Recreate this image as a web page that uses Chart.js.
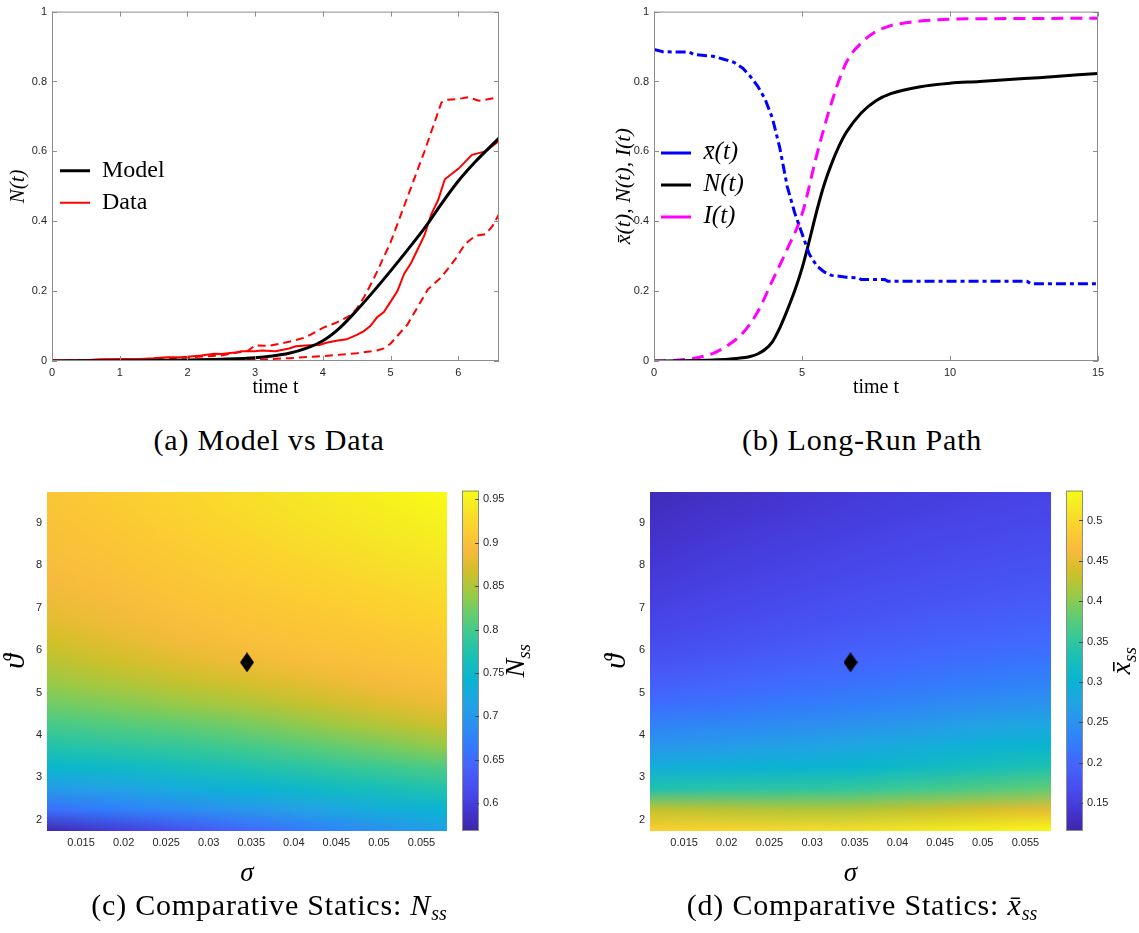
<!DOCTYPE html>
<html>
<head>
<meta charset="utf-8">
<script src="https://cdn.jsdelivr.net/npm/chart.js@4.4.0/dist/chart.umd.min.js"></script>
<style>
  body { margin: 0; background: #fff; }
  #fig { position: relative; width: 1139px; height: 933px; overflow: hidden; }
  canvas { position: absolute; }
  .cap { position: absolute; font-family: "Liberation Serif", "Times New Roman", serif; font-size: 30px;
         letter-spacing: 0.8px; line-height: 30px; color: #000; text-align: center; white-space: nowrap; }
  .cap sub { font-size: 20px; vertical-align: -5px; line-height: 0; letter-spacing: 0; }
</style>
</head>
<body>
<div id="fig">
  <canvas id="cA" width="560" height="400" style="left:0;top:0"></canvas>
  <canvas id="cB" width="569" height="400" style="left:570px;top:0"></canvas>
  <canvas id="cC" width="458" height="410" style="left:0;top:480px"></canvas>
  <canvas id="cCbar" width="100" height="410" style="left:458px;top:480px"></canvas>
  <canvas id="cD" width="492" height="410" style="left:570px;top:480px"></canvas>
  <canvas id="cDbar" width="77" height="410" style="left:1062px;top:480px"></canvas>
  <div class="cap" style="left:0;width:538px;top:425px">(a) Model vs Data</div>
  <div class="cap" style="left:570px;width:584px;top:425px">(b) Long-Run Path</div>
  <div class="cap" style="left:0;width:538px;top:890px">(c) Comparative Statics: <i>N</i><sub><i>ss</i></sub></div>
  <div class="cap" style="left:570px;width:584px;top:890px">(d) Comparative Statics: <i>x̄</i><sub><i>ss</i></sub></div>
</div>
<script>
// ---------- panel (a): model vs data ----------
const tModel = [0, 0.5, 1, 1.5, 2, 2.5, 3, 3.25, 3.5, 3.75, 4, 4.25, 4.5, 4.75, 5, 5.25, 5.5, 5.75, 6, 6.25, 6.6];
const nModel = [0, 0.0005, 0.001, 0.002, 0.003, 0.005, 0.009, 0.014, 0.022, 0.036, 0.058, 0.095, 0.145, 0.2, 0.258, 0.318, 0.38, 0.45, 0.515, 0.57, 0.638];

const tData = [0, 0.3, 0.55, 0.7, 1.0, 1.3, 1.5, 1.7, 1.9, 2.0, 2.2, 2.4, 2.5, 2.7, 2.8, 3.0, 3.1, 3.3, 3.5, 3.6, 3.8, 3.95,
  4.05, 4.2, 4.35, 4.5, 4.6, 4.7, 4.8, 4.9, 5.0, 5.1, 5.2, 5.3, 5.4, 5.5, 5.6, 5.7, 5.8, 5.9, 6.0, 6.1, 6.2, 6.3, 6.4, 6.5, 6.6];
const nData = [0.002, 0.002, 0.003, 0.005, 0.006, 0.006, 0.008, 0.011, 0.011, 0.012, 0.016, 0.021, 0.02, 0.024, 0.028, 0.028,
  0.03, 0.028, 0.036, 0.042, 0.045, 0.046, 0.052, 0.058, 0.062, 0.075, 0.085, 0.1, 0.125, 0.14, 0.17, 0.2, 0.25, 0.28, 0.32,
  0.36, 0.42, 0.46, 0.52, 0.535, 0.55, 0.57, 0.59, 0.595, 0.6, 0.615, 0.63];

const tDataHi = [0, 1, 1.5, 2, 2.5, 2.9, 3.0, 3.2, 3.5, 3.75, 4.0, 4.2, 4.4, 4.5, 4.6, 4.75, 5.0, 5.25, 5.5, 5.75, 5.85, 6.0, 6.15, 6.3, 6.4, 6.6];
const nDataHi = [0.001, 0.003, 0.005, 0.01, 0.016, 0.03, 0.045, 0.043, 0.055, 0.068, 0.095, 0.11, 0.13, 0.15, 0.18, 0.235,
  0.34, 0.47, 0.6, 0.74, 0.748, 0.75, 0.755, 0.745, 0.748, 0.755];

const tDataLo = [0, 1, 2, 2.5, 3.0, 3.5, 4.0, 4.5, 4.8, 4.9, 5.0, 5.25, 5.4, 5.55, 5.75, 5.95, 6.1, 6.25, 6.4, 6.5, 6.6];
const nDataLo = [0, 0, 0, 0.001, 0.003, 0.008, 0.014, 0.022, 0.03, 0.036, 0.05, 0.105, 0.155, 0.205, 0.24, 0.29, 0.335,
  0.358, 0.363, 0.385, 0.42];

const ticksAx = [0, 1, 2, 3, 4, 5, 6];
const ticksAy = [0, 0.2, 0.4, 0.6, 0.8, 1];

// ---------- panel (b): long-run path ----------
const tXbar = [0, 0.3, 1.2, 1.35, 2.0, 2.3, 2.7, 3.0, 3.25, 3.5, 3.75, 4.0, 4.25, 4.5, 4.75, 5.0, 5.25, 5.5, 5.75, 6.0,
  6.5, 6.9, 7.0, 7.8, 7.9, 12.6, 12.75, 15];
const vXbar = [0.892, 0.885, 0.884, 0.877, 0.872, 0.865, 0.855, 0.838, 0.815, 0.787, 0.75, 0.695, 0.61, 0.5, 0.425, 0.365,
  0.305, 0.272, 0.255, 0.245, 0.24, 0.238, 0.233, 0.233, 0.228, 0.228, 0.221, 0.221];

const tNpath = [0, 1, 2, 2.5, 3, 3.25, 3.5, 3.75, 4, 4.25, 4.5, 4.75, 5, 5.25, 5.5, 5.75, 6, 6.25, 6.5, 7, 7.5, 8, 9, 10, 11, 12, 13, 14, 15];
const vNpath = [0, 0.001, 0.003, 0.005, 0.009, 0.013, 0.02, 0.033, 0.055, 0.095, 0.145, 0.2, 0.265, 0.345, 0.43, 0.505,
  0.565, 0.615, 0.655, 0.71, 0.745, 0.765, 0.785, 0.795, 0.8, 0.806, 0.811, 0.817, 0.823];

const tIpath = [0, 0.5, 1, 1.5, 2, 2.5, 3, 3.5, 4, 4.5, 5, 5.5, 6, 6.5, 7, 7.5, 8, 8.5, 9, 10, 12, 15];
const vIpath = [0, 0.001, 0.004, 0.01, 0.022, 0.045, 0.08, 0.14, 0.23, 0.32, 0.42, 0.59, 0.74, 0.855, 0.91, 0.943, 0.96,
  0.968, 0.973, 0.978, 0.98, 0.981];

const ticksBx = [0, 5, 10, 15];

// ---------- panels (c), (d): comparative statics ----------
const sigmaNodes = [0.011, 0.01883, 0.02667, 0.0345, 0.04233, 0.05017, 0.058];
const thetaNodes = [1.735, 2.235, 2.735, 3.235, 3.735, 4.235, 4.735, 5.235, 5.735, 6.235, 6.735, 7.235, 7.735, 8.235, 8.735, 9.235, 9.735];

// rows follow thetaNodes (bottom to top), columns follow sigmaNodes
const nssGrid = [
  [0.572, 0.595, 0.62, 0.645, 0.67, 0.69, 0.71],
  [0.655, 0.67, 0.685, 0.70, 0.715, 0.73, 0.74],
  [0.705, 0.715, 0.728, 0.74, 0.752, 0.765, 0.775],
  [0.745, 0.752, 0.762, 0.772, 0.783, 0.795, 0.805],
  [0.775, 0.783, 0.79, 0.80, 0.812, 0.825, 0.84],
  [0.80, 0.807, 0.815, 0.825, 0.838, 0.852, 0.865],
  [0.822, 0.83, 0.84, 0.85, 0.862, 0.875, 0.885],
  [0.84, 0.85, 0.86, 0.87, 0.88, 0.89, 0.897],
  [0.855, 0.865, 0.877, 0.887, 0.895, 0.90, 0.905],
  [0.868, 0.878, 0.889, 0.897, 0.902, 0.907, 0.912],
  [0.878, 0.887, 0.896, 0.903, 0.908, 0.913, 0.92],
  [0.886, 0.894, 0.902, 0.908, 0.914, 0.92, 0.927],
  [0.892, 0.899, 0.906, 0.913, 0.92, 0.927, 0.934],
  [0.896, 0.903, 0.91, 0.918, 0.926, 0.934, 0.941],
  [0.899, 0.907, 0.915, 0.923, 0.932, 0.94, 0.948],
  [0.902, 0.91, 0.919, 0.928, 0.937, 0.946, 0.954],
  [0.904, 0.913, 0.922, 0.932, 0.941, 0.951, 0.96]
];
const xssGrid = [
  [0.49, 0.495, 0.50, 0.505, 0.515, 0.525, 0.535],
  [0.43, 0.425, 0.42, 0.42, 0.43, 0.44, 0.45],
  [0.335, 0.34, 0.345, 0.35, 0.36, 0.37, 0.38],
  [0.29, 0.295, 0.30, 0.305, 0.315, 0.325, 0.335],
  [0.255, 0.262, 0.27, 0.278, 0.288, 0.298, 0.305],
  [0.23, 0.237, 0.243, 0.25, 0.26, 0.272, 0.28],
  [0.205, 0.212, 0.22, 0.227, 0.235, 0.245, 0.252],
  [0.188, 0.195, 0.203, 0.21, 0.217, 0.224, 0.232],
  [0.175, 0.182, 0.19, 0.197, 0.203, 0.21, 0.215],
  [0.165, 0.172, 0.179, 0.186, 0.192, 0.198, 0.203],
  [0.158, 0.165, 0.171, 0.177, 0.183, 0.188, 0.193],
  [0.151, 0.158, 0.164, 0.17, 0.175, 0.18, 0.185],
  [0.145, 0.152, 0.158, 0.164, 0.169, 0.174, 0.178],
  [0.14, 0.147, 0.153, 0.159, 0.164, 0.168, 0.172],
  [0.135, 0.142, 0.148, 0.154, 0.159, 0.163, 0.167],
  [0.13, 0.137, 0.143, 0.149, 0.154, 0.158, 0.162],
  [0.124, 0.132, 0.139, 0.145, 0.15, 0.154, 0.158]
];
const nssRange = [0.568, 0.96];
const xssRange = [0.1154, 0.537];
const calibPoint = [{ x: 0.0345, y: 5.71 }];

const ticksHeatX = [0.015, 0.02, 0.025, 0.03, 0.035, 0.04, 0.045, 0.05, 0.055];
const ticksHeatY = [2, 3, 4, 5, 6, 7, 8, 9];
const ticksNss = [0.6, 0.65, 0.7, 0.75, 0.8, 0.85, 0.9, 0.95];
const ticksXss = [0.15, 0.2, 0.25, 0.3, 0.35, 0.4, 0.45, 0.5];

// parula colormap stops [pos, r, g, b]
const parula = [
  [0 / 63, 0.2422, 0.1504, 0.6603], [4 / 63, 0.2706, 0.2147, 0.8364], [8 / 63, 0.2813, 0.3006, 0.9414],
  [12 / 63, 0.2699, 0.3892, 0.9906], [16 / 63, 0.1963, 0.4847, 0.9892], [20 / 63, 0.1687, 0.5703, 0.9359],
  [24 / 63, 0.1248, 0.6459, 0.8883], [28 / 63, 0.0297, 0.7082, 0.8163], [32 / 63, 0.0964, 0.7500, 0.7120],
  [36 / 63, 0.2161, 0.7843, 0.5923], [40 / 63, 0.3909, 0.8029, 0.4354], [44 / 63, 0.6174, 0.7876, 0.2612],
  [48 / 63, 0.8203, 0.7498, 0.1535], [52 / 63, 0.9728, 0.7298, 0.2394], [56 / 63, 0.9892, 0.8136, 0.1885],
  [60 / 63, 0.9597, 0.9135, 0.1423], [63 / 63, 0.9769, 0.9839, 0.0805]
];

const SANS = '"Liberation Sans", Arial, sans-serif';
const SERIF = '"Liberation Serif", "Times New Roman", serif';
const tickCol = '#262626';

function colorAt(t) {
  t = Math.max(0, Math.min(1, t));
  for (let i = 1; i < parula.length; i++) {
    if (t <= parula[i][0]) {
      const a = parula[i - 1], b = parula[i];
      const f = (t - a[0]) / (b[0] - a[0]);
      return [1, 2, 3].map(k => Math.round(255 * (a[k] + (b[k] - a[k]) * f)));
    }
  }
  return [249, 251, 21];
}

function pts(xs, ys) { return xs.map((x, i) => ({ x: x, y: ys[i] })); }
function fmt(v) { return String(+Number(v).toFixed(4)); }
function fixTicks(arr) { return s => { s.ticks = arr.map(v => ({ value: v })); }; }

// MATLAB-like box with inward ticks
const boxPlugin = {
  id: 'matBox',
  afterDatasetsDraw(chart) {
    const { ctx, chartArea: a, scales } = chart;
    ctx.save();
    ctx.strokeStyle = '#8c8c8c';
    ctx.lineWidth = 1;
    ctx.strokeRect(a.left + 0.5, a.top + 0.5, a.width - 1, a.height - 1);
    ctx.beginPath();
    scales.x.ticks.forEach(t => {
      const x = Math.round(scales.x.getPixelForValue(t.value)) + 0.5;
      ctx.moveTo(x, a.bottom); ctx.lineTo(x, a.bottom - 5);
      ctx.moveTo(x, a.top); ctx.lineTo(x, a.top + 5);
    });
    scales.y.ticks.forEach(t => {
      const y = Math.round(scales.y.getPixelForValue(t.value)) + 0.5;
      ctx.moveTo(a.left, y); ctx.lineTo(a.left + 5, y);
      ctx.moveTo(a.right, y); ctx.lineTo(a.right - 5, y);
    });
    ctx.stroke();
    ctx.restore();
  }
};

// smooth-shaded heat map from the node grid
const heatPlugin = {
  id: 'heat',
  beforeDatasetsDraw(chart, args, opts) {
    const { ctx, scales: { x, y } } = chart;
    const grid = opts.grid, rows = grid.length, cols = grid[0].length;
    const off = document.createElement('canvas');
    off.width = cols; off.height = rows;
    const oc = off.getContext('2d');
    const img = oc.createImageData(cols, rows);
    for (let r = 0; r < rows; r++) {
      for (let c = 0; c < cols; c++) {
        const col = colorAt((grid[r][c] - opts.range[0]) / (opts.range[1] - opts.range[0]));
        const k = ((rows - 1 - r) * cols + c) * 4;
        img.data[k] = col[0]; img.data[k + 1] = col[1]; img.data[k + 2] = col[2]; img.data[k + 3] = 255;
      }
    }
    oc.putImageData(img, 0, 0);
    const x0 = x.getPixelForValue(sigmaNodes[0]), x1 = x.getPixelForValue(sigmaNodes[cols - 1]);
    const y0 = y.getPixelForValue(thetaNodes[rows - 1]), y1 = y.getPixelForValue(thetaNodes[0]);
    ctx.save();
    ctx.imageSmoothingEnabled = true;
    ctx.imageSmoothingQuality = 'medium';
    ctx.drawImage(off, 0.5, 0.5, cols - 1, rows - 1, x0, y0, x1 - x0, y1 - y0);
    ctx.restore();
  }
};

// colour bar with its rotated label
const cbarPlugin = {
  id: 'cbar',
  beforeDatasetsDraw(chart, args, opts) {
    const { ctx, chartArea: a, scales: { y } } = chart;
    ctx.save();
    const g = ctx.createLinearGradient(0, a.bottom, 0, a.top);
    parula.forEach(s => g.addColorStop(s[0], 'rgb(' + Math.round(s[1] * 255) + ',' + Math.round(s[2] * 255) + ',' + Math.round(s[3] * 255) + ')'));
    ctx.fillStyle = g;
    ctx.fillRect(a.left, a.top, a.width, a.height);
    ctx.strokeStyle = '#8c8c8c';
    ctx.lineWidth = 1;
    ctx.strokeRect(a.left + 0.5, a.top + 0.5, a.width - 1, a.height - 1);
    ctx.strokeStyle = '#444';
    ctx.beginPath();
    y.ticks.forEach(t => {
      const py = Math.round(y.getPixelForValue(t.value)) + 0.5;
      ctx.moveTo(a.right, py); ctx.lineTo(a.right - 4, py);
    });
    ctx.stroke();
    // label, rotated to read upwards
    ctx.translate(opts.labelX, (a.top + a.bottom) / 2);
    ctx.rotate(-Math.PI / 2);
    ctx.fillStyle = '#000';
    ctx.textBaseline = 'alphabetic';
    let total = 0;
    opts.parts.forEach(p => { ctx.font = p.font; p.w = ctx.measureText(p.text).width; total += p.w; });
    let px = -total / 2;
    opts.parts.forEach(p => {
      ctx.font = p.font;
      ctx.fillText(p.text, px, p.dy);
      if (p.bar) ctx.fillRect(px + p.w * 0.25, p.dy - 17, p.w * 0.75, 1.6);
      px += p.w;
    });
    ctx.restore();
  }
};

const base = { responsive: false, animation: false, events: [], devicePixelRatio: 1 };
const tickStyle = { font: { family: SANS, size: 11 }, color: tickCol, maxRotation: 0, autoSkip: false, callback: fmt };

// ---------- chart (a) ----------
new Chart(document.getElementById('cA'), {
  type: 'line',
  data: {
    datasets: [
      { label: 'Model', data: pts(tModel, nModel), borderColor: '#000', borderWidth: 3, pointRadius: 0, pointStyle: 'line',
        cubicInterpolationMode: 'monotone', tension: 0.4 },
      { label: 'Data', data: pts(tData, nData), borderColor: '#ff0000', borderWidth: 2, pointRadius: 0, pointStyle: 'line' },
      { label: '', data: pts(tDataHi, nDataHi), borderColor: '#ff0000', borderWidth: 2, borderDash: [8, 5], pointRadius: 0 },
      { label: '', data: pts(tDataLo, nDataLo), borderColor: '#ff0000', borderWidth: 2, borderDash: [8, 5], pointRadius: 0 }
    ]
  },
  options: Object.assign({}, base, {
    layout: { padding: { top: 11, right: 61, left: 0, bottom: 0 } },
    plugins: {
      tooltip: { enabled: false },
      legend: {
        position: 'chartArea',
        title: { display: true, text: ' ', padding: 0, font: { size: 20, lineHeight: 1.2 } },
        labels: { usePointStyle: true, pointStyleWidth: 30, padding: 8, color: '#000',
          font: { family: SERIF, size: 24 }, filter: it => it.text !== '' }
      }
    },
    scales: {
      x: { type: 'linear', min: 0, max: 6.6, grid: { display: false, drawTicks: false }, border: { display: false },
        ticks: Object.assign({}, tickStyle, { padding: 5 }), afterBuildTicks: fixTicks(ticksAx),
        title: { display: true, text: 'time t', color: '#000', font: { family: SERIF, size: 20, lineHeight: 1 }, padding: { top: 0, bottom: 2 } },
        afterFit: s => { s.height = 39; } },
      y: { min: 0, max: 1, grid: { display: false, drawTicks: false }, border: { display: false },
        ticks: Object.assign({}, tickStyle, { padding: 5 }), afterBuildTicks: fixTicks(ticksAy),
        title: { display: true, text: 'N(t)', color: '#000', font: { family: SERIF, size: 21, style: 'italic', lineHeight: 1 }, padding: { top: 8, bottom: 0 } },
        afterFit: s => { s.width = 52; } }
    }
  }),
  plugins: [boxPlugin]
});

// ---------- chart (b) ----------
new Chart(document.getElementById('cB'), {
  type: 'line',
  data: {
    datasets: [
      { label: 'x̄(t)', data: pts(tXbar, vXbar), borderColor: '#0000ff', borderWidth: 3, borderDash: [10, 4, 4, 4],
        pointRadius: 0, pointStyle: 'line' },
      { label: 'N(t)', data: pts(tNpath, vNpath), borderColor: '#000', borderWidth: 3, pointRadius: 0, pointStyle: 'line',
        cubicInterpolationMode: 'monotone', tension: 0.4 },
      { label: 'I(t)', data: pts(tIpath, vIpath), borderColor: '#ff00ff', borderWidth: 3, borderDash: [12, 7],
        pointRadius: 0, pointStyle: 'line', cubicInterpolationMode: 'monotone', tension: 0.4 }
    ]
  },
  options: Object.assign({}, base, {
    layout: { padding: { top: 11, right: 41, left: 0, bottom: 0 } },
    plugins: {
      tooltip: { enabled: false },
      legend: {
        position: 'chartArea',
        title: { display: true, text: ' ', padding: 0, font: { size: 17, lineHeight: 1.2 } },
        labels: { usePointStyle: true, pointStyleWidth: 30, padding: 7, color: '#000',
          font: { family: SERIF, size: 25, style: 'italic' } }
      }
    },
    scales: {
      x: { type: 'linear', min: 0, max: 15, grid: { display: false, drawTicks: false }, border: { display: false },
        ticks: Object.assign({}, tickStyle, { padding: 5 }), afterBuildTicks: fixTicks(ticksBx),
        title: { display: true, text: 'time t', color: '#000', font: { family: SERIF, size: 20, lineHeight: 1 }, padding: { top: 0, bottom: 2 } },
        afterFit: s => { s.height = 39; } },
      y: { min: 0, max: 1, grid: { display: false, drawTicks: false }, border: { display: false },
        ticks: Object.assign({}, tickStyle, { padding: 5 }), afterBuildTicks: fixTicks(ticksAy),
        title: { display: true, text: 'x̄(t), N(t), I(t)', color: '#000', font: { family: SERIF, size: 22, style: 'italic', lineHeight: 1 }, padding: { top: 43, bottom: 0 } },
        afterFit: s => { s.width = 84; } }
    }
  }),
  plugins: [boxPlugin]
});

// ---------- heat map charts ----------
const diamondImg = document.createElement('canvas');
diamondImg.width = 14; diamondImg.height = 20;
(function () {
  const d = diamondImg.getContext('2d');
  d.fillStyle = '#000';
  d.beginPath(); d.moveTo(7, 0); d.lineTo(14, 10); d.lineTo(7, 20); d.lineTo(0, 10); d.closePath(); d.fill();
})();

function heatChart(id, grid, range, padRight, yWidth, thetaPad) {
  return new Chart(document.getElementById(id), {
    type: 'scatter',
    data: { datasets: [{ data: calibPoint, pointStyle: diamondImg, pointRadius: 10 }] },
    options: Object.assign({}, base, {
      layout: { padding: { top: 9, right: padRight, left: 0, bottom: 0 } },
      plugins: { legend: { display: false }, tooltip: { enabled: false }, heat: { grid: grid, range: range } },
      scales: {
        x: { type: 'linear', min: 0.011, max: 0.058, grid: { display: false, drawTicks: false }, border: { display: false },
          ticks: Object.assign({}, tickStyle, { padding: 5 }), afterBuildTicks: fixTicks(ticksHeatX),
          title: { display: true, text: 'σ', color: '#000', font: { family: SERIF, size: 27, style: 'italic', lineHeight: 1 }, padding: { top: 0, bottom: 3 } },
          afterFit: s => { s.height = 59; } },
        y: { min: 1.735, max: 9.735, grid: { display: false, drawTicks: false }, border: { display: false },
          ticks: Object.assign({}, tickStyle, { padding: 5 }), afterBuildTicks: fixTicks(ticksHeatY),
          title: { display: true, text: 'ϑ', color: '#000', font: { family: SERIF, size: 30, style: 'italic', lineHeight: 1 }, padding: { top: thetaPad, bottom: 0 } },
          afterFit: s => { s.width = yWidth; } }
      }
    }),
    plugins: [heatPlugin]
  });
}

function cbarChart(id, range, ticks, yWidth, parts, labelX) {
  return new Chart(document.getElementById(id), {
    type: 'scatter',
    data: { datasets: [] },
    options: Object.assign({}, base, {
      layout: { padding: { top: 9, right: 0, left: 4, bottom: 59 } },
      plugins: { legend: { display: false }, tooltip: { enabled: false }, cbar: { parts: parts, labelX: labelX } },
      scales: {
        x: { display: false },
        y: { position: 'right', min: range[0], max: range[1], grid: { display: false, drawTicks: false }, border: { display: false },
          ticks: Object.assign({}, tickStyle, { padding: 4 }), afterBuildTicks: fixTicks(ticks),
          afterFit: s => { s.width = yWidth; } }
      }
    }),
    plugins: [cbarPlugin]
  });
}

heatChart('cC', nssGrid, nssRange, 3, 47, 1);
heatChart('cD', xssGrid, xssRange, 5, 80, 32);

cbarChart('cCbar', nssRange, ticksNss, 79, [
  { text: 'N', font: 'italic 28px ' + SERIF, dy: 0 },
  { text: 'ss', font: 'italic 19px ' + SERIF, dy: 6 }
], 66);
cbarChart('cDbar', xssRange, ticksXss, 56, [
  { text: 'x', font: 'italic 28px ' + SERIF, dy: 0, bar: true },
  { text: 'ss', font: 'italic 19px ' + SERIF, dy: 6 }
], 68);
</script>
</body>
</html>
